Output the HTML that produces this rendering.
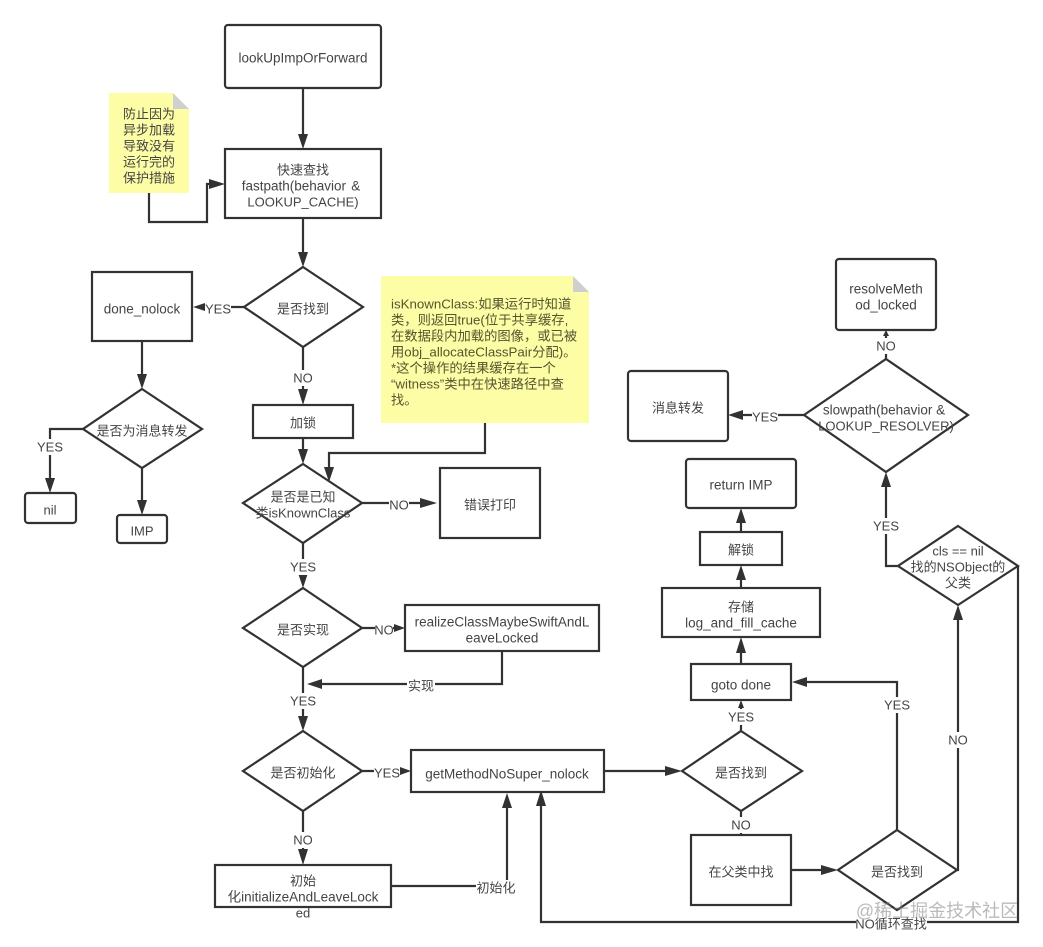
<!DOCTYPE html>
<html><head><meta charset="utf-8"><style>
html,body{margin:0;padding:0;background:#fff}
svg{display:block;filter:blur(.3px)}
text{font-family:"Liberation Sans","Noto Sans CJK SC",sans-serif;font-size:13px;fill:#444;text-anchor:middle;dominant-baseline:central}
text.a{font-size:13.5px}
.s{fill:none;stroke:#323232;stroke-width:2.2}
.f{fill:#fff;stroke:#323232;stroke-width:2.2}
.n{fill:#fdfda6}
.h{fill:#323232}
.w{fill:#fff}
text.l{text-anchor:start;fill:#55552f;font-size:13.3px}
</style></head><body>
<svg width="1043" height="947" viewBox="0 0 1043 947" xmlns="http://www.w3.org/2000/svg">
<rect width="1043" height="947" fill="#fff"/>
<!-- connectors -->
<path class="s" d="M303 88V135M303 218V253M149 193V222H207V184H212M244 307H203M142 341V375M83 429H50V479M142 468V500M303 347V390M303 438V450M485 423V453H329V468M362 503H422M303 543V576M362 628H396M502 651V684H320M303 667V717M362 771H402M303 811V850M391 886H507V806M604 771H667M741 731V704M741 811V835M791 870H823M897 830V682H805M957 870H958V618M1018 566V922H541V804M898 566H886V485M804 415H741M886 359V334M741 664V650M741 588V578M741 532V521"/>
<g class="h">
<polygon points="303,149 298,134 308,134"/>
<polygon points="303,267 298,252 308,252"/>
<polygon points="225,184 209,179 209,189"/>
<polygon points="193,307 205,303 205,311"/>
<polygon points="142,389 137,374 147,374"/>
<polygon points="50,493 45,478 55,478"/>
<polygon points="142,515 137,500 147,500"/>
<polygon points="303,405 298,389 308,389"/>
<polygon points="303,464 298,449 308,449"/>
<polygon points="329,482 324,467 334,467"/>
<polygon points="437,503 420,498 420,508"/>
<polygon points="303,588 298,573 308,573"/>
<polygon points="405,628 394,624 394,632"/>
<polygon points="307,684 322,679 322,689"/>
<polygon points="303,731 298,716 308,716"/>
<polygon points="411,771 400,767 400,775"/>
<polygon points="303,865 298,849 308,849"/>
<polygon points="507,793 502,808 512,808"/>
<polygon points="541,790 536,806 546,806"/>
<polygon points="682,771 665,766 665,776"/>
<polygon points="741,700 738,708 744,708"/>
<polygon points="838,870 821,865 821,875"/>
<polygon points="792,682 807,677 807,687"/>
<polygon points="958,605 953,620 963,620"/>
<polygon points="886,472 881,487 891,487"/>
<polygon points="728,415 743,410 743,420"/>
<polygon points="886,330 883,336 889,336"/>
<polygon points="741,637 736,653 746,653"/>
<polygon points="741,565 736,580 746,580"/>
<polygon points="741,508 736,523 746,523"/>
</g>
<!-- notes -->
<polygon class="n" points="109,93 173,93 189,109 189,193 109,193"/>
<polygon points="173,93 189,109 173,109" fill="#cfcfcf"/>
<polygon class="n" points="381,276 573,276 589,292 589,423 381,423"/>
<polygon points="573,276 589,292 573,292" fill="#cfcfcf"/>
<!-- nodes -->
<rect class="f" x="225" y="25" width="156" height="63" rx="3"/>
<rect class="f" x="225" y="149" width="156" height="69"/>
<rect class="f" x="92" y="272" width="100" height="69"/>
<rect class="f" x="25" y="493" width="51" height="30" rx="3"/>
<rect class="f" x="117" y="515" width="50" height="28" rx="3"/>
<rect class="f" x="253" y="405" width="100" height="33"/>
<rect class="f" x="440" y="468" width="100" height="70"/>
<rect class="f" x="405" y="605" width="194" height="46"/>
<rect class="f" x="411" y="750" width="193" height="42"/>
<rect class="f" x="215" y="865" width="176" height="42"/>
<rect class="f" x="691" y="664" width="100" height="36"/>
<rect class="f" x="691" y="835" width="100" height="70"/>
<rect class="f" x="662" y="588" width="158" height="49"/>
<rect class="f" x="700" y="532" width="82" height="33"/>
<rect class="f" x="686" y="459" width="110" height="49" rx="3"/>
<rect class="f" x="628" y="371" width="100" height="70" rx="3"/>
<rect class="f" x="836" y="259" width="100" height="71" rx="3"/>
<polygon class="f" points="303,267 363,307 303,347 244,307"/>
<polygon class="f" points="142,389 202,429 142,468 83,429"/>
<polygon class="f" points="303,464 362,503 303,543 243,503"/>
<polygon class="f" points="303,588 362,628 303,667 243,628"/>
<polygon class="f" points="303,731 362,771 303,811 243,771"/>
<polygon class="f" points="741,731 802,771 741,811 682,771"/>
<polygon class="f" points="897,830 957,870 897,910 838,870"/>
<polygon class="f" points="958,526 1018,566 958,605 898,566"/>
<polygon class="f" points="886,359 968,415 886,472 804,415"/>
<!-- connector label backgrounds -->
<g class="w">
<rect x="205" y="301" width="26" height="16"/>
<rect x="37" y="439" width="26" height="16"/>
<rect x="292" y="370" width="22" height="16"/>
<rect x="389" y="497" width="20" height="16"/>
<rect x="290" y="559" width="26" height="16"/>
<rect x="375" y="622" width="18" height="16"/>
<rect x="407" y="678" width="28" height="16"/>
<rect x="290" y="693" width="26" height="16"/>
<rect x="374" y="765" width="26" height="16"/>
<rect x="293" y="832" width="20" height="16"/>
<rect x="476" y="880" width="40" height="16"/>
<rect x="729" y="709" width="25" height="16"/>
<rect x="731" y="817" width="20" height="16"/>
<rect x="884" y="697" width="26" height="16"/>
<rect x="948" y="732" width="20" height="16"/>
<rect x="856" y="917" width="71" height="15"/>
<rect x="873" y="518" width="26" height="16"/>
<rect x="752" y="409" width="26" height="16"/>
<rect x="876" y="338" width="20" height="16"/>
</g>
<!-- node text -->
<text class="a" x="303" y="58">lookUpImpOrForward</text>
<text x="303" y="170">快速查找</text>
<text class="a" x="301" y="186" style="word-spacing:1.5px">fastpath(behavior &amp;</text>
<text x="303" y="202">LOOKUP_CACHE)</text>
<text class="a" x="142" y="309">done_nolock</text>
<text x="303" y="309">是否找到</text>
<text x="142" y="431">是否为消息转发</text>
<text x="50" y="510">nil</text>
<text x="142" y="531">IMP</text>
<text x="303" y="423">加锁</text>
<text x="303" y="497">是否是已知</text>
<text x="303" y="513">类isKnownClass</text>
<text x="490" y="505">错误打印</text>
<text x="303" y="630">是否实现</text>
<text class="a" x="502" y="622">realizeClassMaybeSwiftAndL</text>
<text class="a" x="502" y="638">eaveLocked</text>
<text x="303" y="773">是否初始化</text>
<text class="a" x="507" y="774">getMethodNoSuper_nolock</text>
<text x="303" y="881">初始</text>
<text class="a" x="303" y="897">化initializeAndLeaveLock</text>
<text x="303" y="913">ed</text>
<text class="a" x="741" y="685">goto done</text>
<text x="741" y="773">是否找到</text>
<text x="741" y="872">在父类中找</text>
<text x="897" y="872">是否找到</text>
<text x="741" y="607">存储</text>
<text class="a" x="741" y="623">log_and_fill_cache</text>
<text x="741" y="550">解锁</text>
<text class="a" x="741" y="485">return IMP</text>
<text x="678" y="408">消息转发</text>
<text class="a" x="886" y="289">resolveMeth</text>
<text class="a" x="886" y="305">od_locked</text>
<text class="a" x="884" y="410">slowpath(behavior &amp;</text>
<text x="886" y="426">LOOKUP_RESOLVER)</text>
<text x="958" y="551">cls == nil</text>
<text x="958" y="567">找的NSObject的</text>
<text x="958" y="583">父类</text>
<!-- note text -->
<text x="149" y="114">防止因为</text>
<text x="149" y="130">异步加载</text>
<text x="149" y="146">导致没有</text>
<text x="149" y="162">运行完的</text>
<text x="149" y="178">保护措施</text>
<text class="l" x="391" y="304">isKnownClass:如果运行时知道</text>
<text class="l" x="391" y="320">类，则返回true(位于共享缓存,</text>
<text class="l" x="391" y="336">在数据段内加载的图像，或已被</text>
<text class="l" x="391" y="352">用obj_allocateClassPair分配)。</text>
<text class="l" x="391" y="368">*这个操作的结果缓存在一个</text>
<text class="l" x="391" y="384">“witness”类中在快速路径中查</text>
<text class="l" x="391" y="400">找。</text>
<!-- connector labels -->
<text x="218" y="309">YES</text>
<text x="50" y="447">YES</text>
<text x="303" y="378">NO</text>
<text x="399" y="505">NO</text>
<text x="303" y="567">YES</text>
<text x="384" y="630">NO</text>
<text x="421" y="686">实现</text>
<text x="303" y="701">YES</text>
<text x="387" y="773">YES</text>
<text x="303" y="840">NO</text>
<text x="496" y="888">初始化</text>
<text x="741" y="717">YES</text>
<text x="741" y="825">NO</text>
<text x="897" y="705">YES</text>
<text x="958" y="740">NO</text>
<text x="891" y="924">NO循环查找</text>
<text x="886" y="526">YES</text>
<text x="765" y="417">YES</text>
<text x="886" y="346">NO</text>
<!-- watermark -->
<text x="937" y="911" style="font-size:18px;fill:rgba(130,130,130,.55)">@稀土掘金技术社区</text>
</svg>
</body></html>
